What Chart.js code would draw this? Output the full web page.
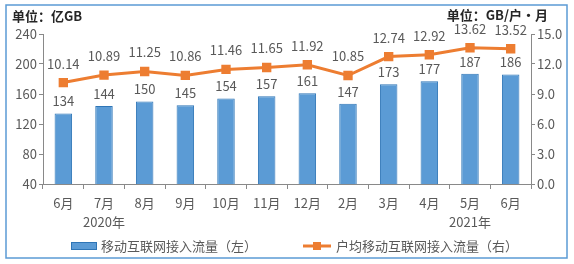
<!DOCTYPE html>
<html>
<head>
<meta charset="utf-8">
<script src="https://cdn.jsdelivr.net/npm/chart.js@4"></script>
<style>
  html, body { margin: 0; padding: 0; background: #fff; }
  #wrap { width: 574px; height: 264px; position: relative; }
</style>
</head>
<body>
<div id="wrap"><canvas id="chart"></canvas></div>
<script>
var months = ['6月', '7月', '8月', '9月', '10月', '11月', '12月', '2月', '3月', '4月', '5月', '6月'];
var years = ['', '2020年', '', '', '', '', '', '', '', '', '2021年', ''];
var traffic = [134, 144, 150, 145, 154, 157, 161, 147, 173, 177, 187, 186];
var perUser = [10.14, 10.89, 11.25, 10.86, 11.46, 11.65, 11.92, 10.85, 12.74, 12.92, 13.62, 13.52];
var leftTicks = [40, 80, 120, 160, 200, 240];
var rightTicks = [0, 3, 6, 9, 12, 15];

var barName = '移动互联网接入流量（左）';
var lineName = '户均移动互联网接入流量（右）';

var FONT = '"Noto Sans CJK SC", "Noto Sans", sans-serif';
var GREY = '#595959';
var BLUE = '#5B9BD5';
var ORANGE = '#ED7D31';

var labels = months.map(function (m, i) { return [m, years[i]]; });

// value labels, unit captions, frame and legend
var extras = {
    id: 'extras',
    afterDatasetsDraw: function (chart) {
        var ctx = chart.ctx;
        ctx.save();
        ctx.fillStyle = GREY;
        ctx.font = '13px ' + FONT;
        ctx.textAlign = 'center';
        ctx.textBaseline = 'middle';
        chart.getDatasetMeta(0).data.forEach(function (el, i) {
            ctx.fillText(traffic[i], el.x, el.y - 12);
        });
        chart.getDatasetMeta(1).data.forEach(function (el, i) {
            ctx.fillText(perUser[i].toFixed(2), el.x, el.y - 19);
        });
        ctx.restore();
    },
    afterDraw: function (chart) {
        var ctx = chart.ctx;
        ctx.save();
        // frame
        ctx.strokeStyle = BLUE;
        ctx.lineWidth = 1.5;
        ctx.strokeRect(6, 5, 561, 253);

        // unit captions
        ctx.fillStyle = '#262626';
        ctx.font = 'bold 13px ' + FONT;
        ctx.textBaseline = 'middle';
        ctx.textAlign = 'left';
        ctx.fillText('单位：亿GB', 12, 16);
        ctx.textAlign = 'right';
        ctx.fillText('单位：GB/户•月', 548, 15);

        // legend
        var ly = 246;
        ctx.fillStyle = BLUE;
        ctx.fillRect(71, ly - 4, 26, 8);
        ctx.strokeStyle = '#2E75B6';
        ctx.lineWidth = 1;
        ctx.strokeRect(71.5, ly - 3.5, 25, 7);

        ctx.strokeStyle = ORANGE;
        ctx.lineWidth = 3;
        ctx.beginPath();
        ctx.moveTo(303, ly);
        ctx.lineTo(331, ly);
        ctx.stroke();
        ctx.fillStyle = ORANGE;
        ctx.fillRect(313, ly - 4, 8, 8);

        ctx.fillStyle = GREY;
        ctx.font = '13px ' + FONT;
        ctx.textAlign = 'left';
        ctx.fillText(barName, 101, ly);
        ctx.fillText(lineName, 336, ly);
        ctx.restore();
    }
};

new Chart(document.getElementById('chart'), {
    data: {
        labels: labels,
        datasets: [{
            type: 'bar',
            label: barName,
            data: traffic,
            yAxisID: 'yL',
            backgroundColor: BLUE,
            borderColor: '#2E75B6',
            borderWidth: 1,
            barPercentage: 0.86,
            categoryPercentage: 0.5,
            order: 2
        }, {
            type: 'line',
            label: lineName,
            data: perUser,
            yAxisID: 'yR',
            borderColor: ORANGE,
            borderWidth: 3,
            pointStyle: 'rect',
            pointRadius: 4.5,
            pointBackgroundColor: ORANGE,
            pointBorderColor: ORANGE,
            tension: 0,
            order: 1
        }]
    },
    options: {
        responsive: true,
        maintainAspectRatio: false,
        animation: false,
        layout: { padding: { top: 34, bottom: 30, left: 0, right: 0 } },
        plugins: {
            legend: { display: false },
            tooltip: { enabled: false }
        },
        scales: {
            x: {
                offset: true,
                grid: {
                    offset: true,
                    drawOnChartArea: false,
                    drawTicks: true,
                    tickLength: 5,
                    color: '#898989'
                },
                border: { color: '#898989' },
                ticks: {
                    color: GREY,
                    font: { family: FONT, size: 13, lineHeight: 1.45 },
                    maxRotation: 0,
                    autoSkip: false,
                    padding: 5
                },
                afterFit: function (s) { s.height = 50; }
            },
            yL: {
                position: 'left',
                min: 40,
                max: 240,
                afterBuildTicks: function (s) {
                    s.ticks = leftTicks.map(function (v) { return { value: v }; });
                },
                grid: { drawOnChartArea: false, tickLength: 4, color: '#898989' },
                border: { color: '#898989' },
                ticks: {
                    color: GREY,
                    font: { family: FONT, size: 13 },
                    padding: 2
                },
                afterFit: function (s) { s.width = 43; }
            },
            yR: {
                position: 'right',
                min: 0,
                max: 15,
                afterBuildTicks: function (s) {
                    s.ticks = rightTicks.map(function (v) { return { value: v }; });
                },
                grid: { drawOnChartArea: false, tickLength: 4, color: '#898989' },
                border: { color: '#898989' },
                ticks: {
                    color: GREY,
                    font: { family: FONT, size: 13 },
                    padding: 2,
                    callback: function (v) { return Number(v).toFixed(1); }
                },
                afterFit: function (s) { s.width = 43; }
            }
        }
    },
    plugins: [extras]
});
</script>
</body>
</html>
